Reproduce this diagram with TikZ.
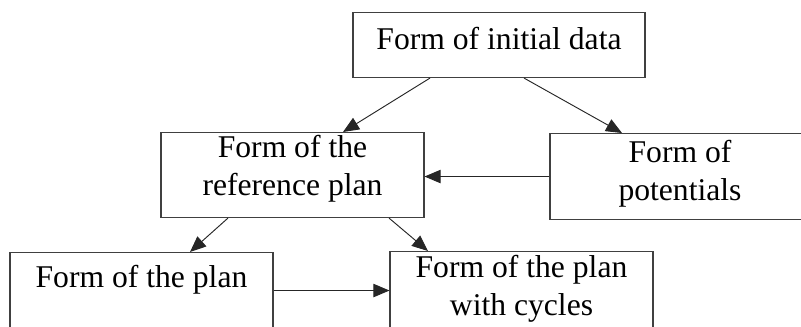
\documentclass[tikz,border=0pt]{standalone}
\usepackage{fontspec}
\setmainfont{Liberation Serif}
\usetikzlibrary{arrows.meta,calc}
\begin{document}
\begin{tikzpicture}[x=0.03cm, y=-0.03cm,
  block/.style={draw=black!75, line width=0.9pt, anchor=north, inner ysep=0pt, align=center, font=\fontsize{27}{32.4}\selectfont},
  link/.style={-{Triangle[length=0.48cm, width=0.4cm]}, draw=black!85, line width=0.8pt}]
\useasboundingbox (0,0) rectangle (801,326);
\clip (0,0) rectangle (801,326);
\node[block, minimum width=8.76cm, text height=1.11cm, text depth=0.84cm] (init) at (499,12) {Form of initial data};
\node[block, minimum width=7.89cm, text height=1.89cm, text depth=0.66cm] (ref) at (292.5,132) {Form of the\\reference plan};
\node[block, minimum width=7.8cm, text height=2.01cm, text depth=0.57cm] (pot) at (680,133) {Form of\\potentials};
\node[block, minimum width=7.89cm, text height=1.05cm, text depth=1.5cm] (plan) at (141.5,252) {Form of the plan};
\node[block, minimum width=7.89cm, text height=1.92cm, text depth=0.63cm] (cyc) at (521.5,251) {Form of the plan\\with cycles};
\coordinate (planout) at ($(plan.east)+(0,-4.5)$);
\draw [link] ($(init.south)+(-69,0)$) -- ($(ref.north)+(50.5,0)$);
\draw [link] ($(init.south)+(25,0)$) -- ($(pot.north)+(-58,0)$);
\draw [link] (pot.west) -- (pot.west -| ref.east);
\draw [link] ($(ref.south)+(-64.5,0)$) -- ($(plan.north)+(48.5,0)$);
\draw [link] ($(ref.south)+(96.5,0)$) -- ($(cyc.north)+(-93.5,0)$);
\draw [link] (planout) -- (planout -| cyc.west);
\end{tikzpicture}
\end{document}
